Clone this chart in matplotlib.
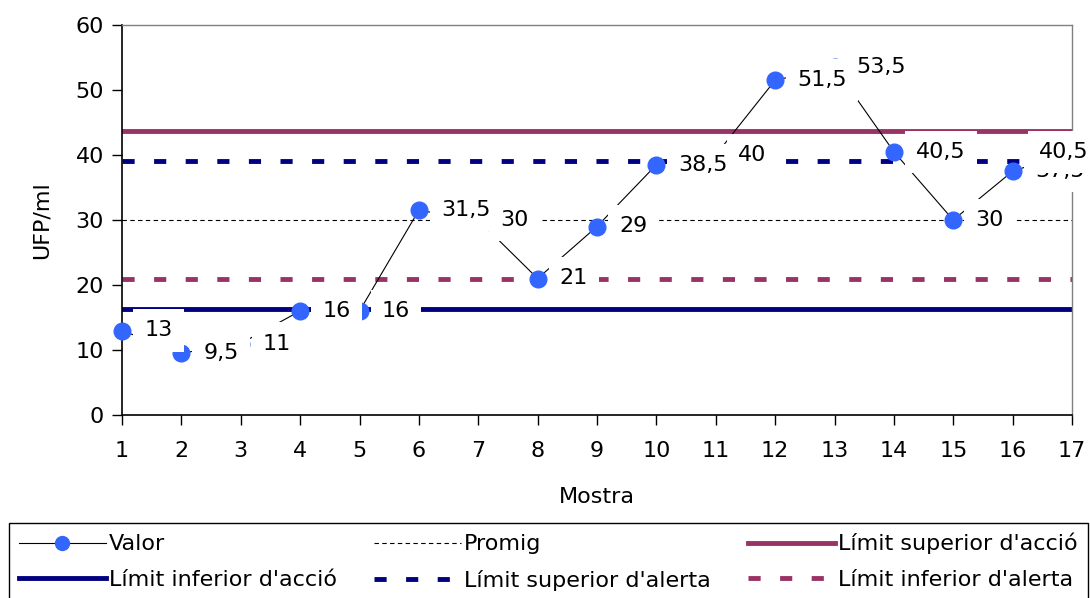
import matplotlib.pyplot as plt

plt.rcParams['font.family'] = ['DejaVu Sans']

# dades
mostra = [1, 2, 3, 4, 5, 6, 7, 8, 9, 10, 11, 12, 13, 14, 15, 16, 17]
valor = [13, 9.5, 11, 16, 16, 31.5, 30, 21, 29, 38.5, 40, 51.5, 53.5, 40.5, 30, 37.5, 40.5]
promig = 30
lim_sup_accio = 43.7
lim_inf_accio = 16.3
lim_sup_alerta = 39.1
lim_inf_alerta = 20.9

blau = '#3366FF'
lila = '#993366'
mari = '#000080'
fs = 16

fig = plt.figure(figsize=(10.9, 5.98), dpi=100)
ax = fig.add_axes([122/1090, 1-415/598, (1072-122)/1090, 390/598])

n = len(mostra)
l_valor, = ax.plot(mostra, valor, color='black', lw=0.8, marker='o',
                   markersize=12, markerfacecolor=blau, markeredgecolor=blau,
                   clip_on=False, zorder=4, label='Valor')
l_promig, = ax.plot(mostra, [promig]*n, color='black', lw=0.8,
                    linestyle=(0, (4, 3)), zorder=2, label='Promig')
l_sac, = ax.plot(mostra, [lim_sup_accio]*n, color=lila, lw=3.5,
                 zorder=2, label="Límit superior d'acció")
l_iac, = ax.plot(mostra, [lim_inf_accio]*n, color=mari, lw=3.5,
                 zorder=2, label="Límit inferior d'acció")
l_sal, = ax.plot(mostra, [lim_sup_alerta]*n, color=mari, lw=3.5,
                 linestyle=(0, (2.5, 4)), zorder=2, label="Límit superior d'alerta")
l_ial, = ax.plot(mostra, [lim_inf_alerta]*n, color=lila, lw=3.5,
                 linestyle=(0, (2.5, 4)), zorder=2, label="Límit inferior d'alerta")

# etiquetes de dades (caixa blanca, com a l'Excel)
for i, (x, y) in enumerate(zip(mostra, valor)):
    txt = ('%g' % y).replace('.', ',')
    if i == n - 1:
        off, ha = (-6, 0), 'center'
    else:
        off, ha = (16, 0), 'left'
    ax.annotate(txt, (x, y), xytext=off, textcoords='offset points',
                ha=ha, va='center', fontsize=fs, zorder=6,
                bbox=dict(boxstyle='square,pad=0.5', fc='white', ec='none'))

ax.set_xlim(1, 17)
ax.set_ylim(0, 60)
ax.set_xticks(mostra)
ax.set_yticks(range(0, 61, 10))
ax.tick_params(direction='out', length=7, width=1, labelsize=fs)
ax.tick_params(axis='x', pad=12)
ax.tick_params(axis='y', pad=6)

for s in ['left', 'bottom']:
    ax.spines[s].set_color('black')
    ax.spines[s].set_linewidth(1.2)
for s in ['top', 'right']:
    ax.spines[s].set_color('#808080')
    ax.spines[s].set_linewidth(1)

ax.set_xlabel('Mostra', fontsize=fs)
ax.set_ylabel('UFP/ml', fontsize=fs)
ax.xaxis.set_label_coords(0.5, -0.185)
ax.yaxis.set_label_coords(-0.074, 0.5)

handles = [l_valor, l_iac, l_promig, l_sal, l_sac, l_ial]
leg = fig.legend(handles=handles, labels=[h.get_label() for h in handles],
                 ncol=3, mode='expand', loc='upper left',
                 bbox_to_anchor=(9/1090, 1-523/598, 1079/1090, 0),
                 borderaxespad=0, fontsize=fs, handlelength=3.9,
                 handletextpad=0.15, labelspacing=0.68, numpoints=1,
                 fancybox=False, framealpha=1, edgecolor='black',
                 borderpad=0.45)
leg.get_frame().set_linewidth(1)
for h in leg.legend_handles:
    if h.get_marker() == 'o':
        h.set_markersize(10)

fig.savefig('out.png', dpi=100)
